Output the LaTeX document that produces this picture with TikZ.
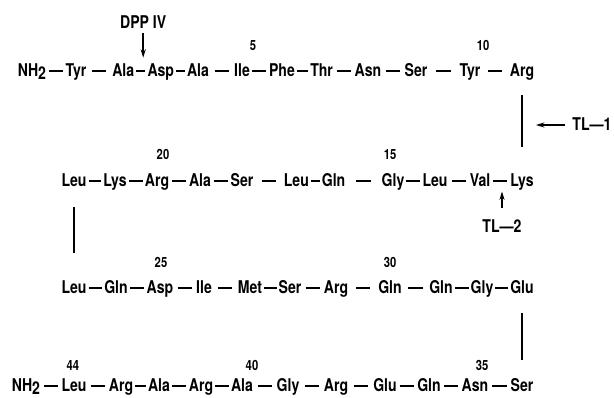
\documentclass[tikz,border=0pt]{standalone}
\usepackage{fontspec}
\setmainfont{TeX Gyre Heros}
\newfontfamily\resfont{TeX Gyre Heros}[FakeStretch=0.8, Ligatures=TeX]
\usetikzlibrary{arrows.meta, calc}

\begin{document}
\begin{tikzpicture}[
    res/.style={anchor=base, inner xsep=0.02cm, inner ysep=0.05cm,
                text height=0.33cm, text depth=0.08cm,
                font=\resfont\bfseries\fontsize{12.5}{14}\selectfont},
    num/.style={anchor=base, font=\resfont\bfseries\fontsize{10}{11}\selectfont},
    bond/.style={line width=1.2pt,
                 to path={let \p1=(\tikztostart.east), \p2=(\tikztotarget.west),
                          \n1={min(\x2-\x1-1.5pt,10pt)} in
                          ({(\x1+\x2)/2-\n1/2},\y1) -- ({(\x1+\x2)/2+\n1/2},\y1)}},
    turn/.style={line width=1.3pt},
    cut/.style={->, >={Stealth[length=6pt,width=3.6pt]}, line width=1.1pt},
]
\useasboundingbox (0,0) rectangle (15.35,-9.925);

% row 1: residues 1-11
\node[res] (n1)  at (0.80,-1.90)  {NH\raisebox{-0.35ex}{2}};
\node[res] (r1)  at (1.90,-1.90)  {Tyr};
\node[res] (r2)  at (3.08,-1.90)  {Ala};
\node[res] (r3)  at (4.02,-1.90)  {Asp};
\node[res] (r4)  at (4.95,-1.90)  {Ala};
\node[res] (r5)  at (6.05,-1.90)  {Ile};
\node[res] (r6)  at (7.05,-1.90)  {Phe};
\node[res] (r7)  at (8.04,-1.90)  {Thr};
\node[res] (r8)  at (9.20,-1.90)  {Asn};
\node[res] (r9)  at (10.40,-1.90) {Ser};
\node[res] (r10) at (11.75,-1.90) {Tyr};
\node[res] (r11) at (13.05,-1.90) {Arg};

% row 2: residues 12-22, right to left
\node[res] (r12) at (13.05,-4.65) {Lys};
\node[res] (r13) at (12.00,-4.65) {Val};
\node[res] (r14) at (10.875,-4.65) {Leu};
\node[res] (r15) at (9.825,-4.65) {Gly};
\node[res] (r16) at (8.34,-4.65)  {Gln};
\node[res] (r17) at (7.41,-4.65)  {Leu};
\node[res] (r18) at (6.05,-4.65)  {Ser};
\node[res] (r19) at (5.00,-4.65)  {Ala};
\node[res] (r20) at (3.925,-4.65) {Arg};
\node[res] (r21) at (2.875,-4.65) {Lys};
\node[res] (r22) at (1.85,-4.65)  {Leu};

% row 3: residues 23-33
\node[res] (r23) at (1.85,-7.325)  {Leu};
\node[res] (r24) at (2.90,-7.325)  {Gln};
\node[res] (r25) at (4.00,-7.325)  {Asp};
\node[res] (r26) at (5.10,-7.325)  {Ile};
\node[res] (r27) at (6.25,-7.325)  {Met};
\node[res] (r28) at (7.25,-7.325)  {Ser};
\node[res] (r29) at (8.40,-7.325)  {Arg};
\node[res] (r30) at (9.75,-7.325)  {Gln};
\node[res] (r31) at (11.025,-7.325) {Gln};
\node[res] (r32) at (12.05,-7.325) {Gly};
\node[res] (r33) at (13.05,-7.325) {Glu};

% row 4: residues 34-44, right to left
\node[res] (r34) at (13.05,-9.775) {Ser};
\node[res] (r35) at (11.875,-9.775) {Asn};
\node[res] (r36) at (10.725,-9.775) {Gln};
\node[res] (r37) at (9.625,-9.775) {Glu};
\node[res] (r38) at (8.40,-9.775)  {Arg};
\node[res] (r39) at (7.20,-9.775)  {Gly};
\node[res] (r40) at (6.05,-9.775)  {Ala};
\node[res] (r41) at (5.025,-9.775) {Arg};
\node[res] (r42) at (3.975,-9.775) {Ala};
\node[res] (r43) at (3.025,-9.775) {Arg};
\node[res] (r44) at (1.85,-9.775)  {Leu};
\node[res] (c44) at (0.65,-9.775)  {NH\raisebox{-0.35ex}{2}};

% position numbers
\node[num] (p5)  at (6.325,-1.25)  {5};
\node[num] (p10) at (12.075,-1.25) {10};
\node[num] (p20) at (4.075,-3.975) {20};
\node[num] (p15) at (9.75,-3.975)  {15};
\node[num] (p25) at (4.025,-6.675) {25};
\node[num] (p30) at (9.75,-6.675)  {30};
\node[num] (p44) at (1.825,-9.25)  {44};
\node[num] (p40) at (6.30,-9.25)   {40};
\node[num] (p35) at (12.05,-9.25)  {35};

% peptide bonds, written left to right
\draw[bond] (n1) to (r1) (r1) to (r2) (r2) to (r3) (r3) to (r4) (r4) to (r5)
            (r5) to (r6) (r6) to (r7) (r7) to (r8) (r8) to (r9) (r9) to (r10)
            (r10) to (r11);
\draw[bond] (r22) to (r21) (r21) to (r20) (r20) to (r19) (r19) to (r18)
            (r18) to (r17) (r17) to (r16) (r16) to (r15) (r15) to (r14)
            (r14) to (r13) (r13) to (r12);
\draw[bond] (r23) to (r24) (r24) to (r25) (r25) to (r26) (r26) to (r27)
            (r27) to (r28) (r28) to (r29) (r29) to (r30) (r30) to (r31)
            (r31) to (r32) (r32) to (r33);
\draw[bond] (c44) to (r44) (r44) to (r43) (r43) to (r42) (r42) to (r41)
            (r41) to (r40) (r40) to (r39) (r39) to (r38) (r38) to (r37)
            (r37) to (r36) (r36) to (r35) (r35) to (r34);

% chain turns
\draw[turn, shorten <=0.345cm, shorten >=0.595cm] (r11.south) -- (r12.north);
\draw[turn, shorten <=0.395cm, shorten >=0.62cm]  (r22.south) -- (r23.north);
\draw[turn, shorten <=0.37cm,  shorten >=0.395cm] (r33.south) -- (r34.north);

% cleavage sites
\node[res] (dpp) at (3.58,-0.70)  {DPP IV};
\node[res] (tl1) at (14.80,-3.25) {TL---1};
\node[res] (tl2) at (12.55,-5.80) {TL---2};
\draw[cut, shorten >=0.07cm] (dpp.south) -- (dpp.south |- r3.north);
\draw[cut, shorten <=0.15cm, shorten >=0.35cm] (tl1) -- (tl1 -| r11);
\draw[cut, shorten <=0.22cm] (tl2) -- (tl2 |- r13.south);
\end{tikzpicture}
\end{document}
